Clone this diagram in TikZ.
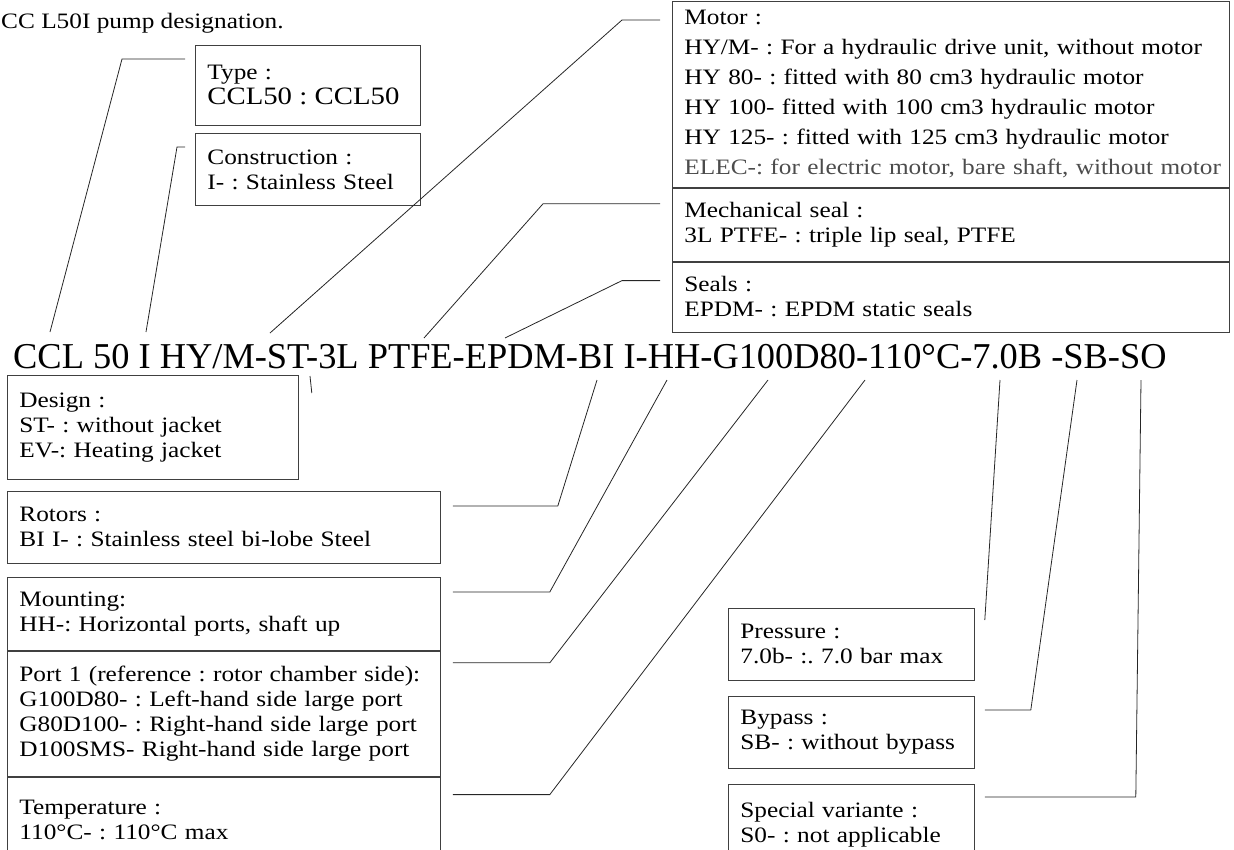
\documentclass[tikz,border=0pt]{standalone}
\usepackage{fontspec}
\setmainfont{Liberation Serif}
\newfontfamily\boxfont{Liberation Serif}[FakeStretch=1.15]
\usetikzlibrary{positioning,calc}
\frenchspacing

\tikzset{
  box/.style={draw=black!75, line width=0.8pt, anchor=north west, align=left,
    inner xsep=12pt, inner ysep=0pt, font=\boxfont\fontsize{22}{25}\selectfont},
  lead/.style={draw=black!85, line width=0.8pt},
}

\begin{document}
\begin{tikzpicture}[x=1pt, y=-1pt]
  \useasboundingbox (0,0) rectangle (1234,849);

  % heading and designation string
  \node[anchor=base west, inner sep=0pt, font=\boxfont\fontsize{22}{25}\selectfont] (title) at (1,28) {CC L50I pump designation.};
  \node[anchor=base west, inner sep=0pt, font=\fontsize{36.4}{40}\selectfont] (code) at (13,368) {CCL 50 I HY/M-ST-3L PTFE-EPDM-BI I-HH-G100D80-110°C-7.0B -SB-SO};

  % boxes above the string
  \node[box, minimum width=225, minimum height=80, text width=201] (type) at (195,45) {Type :\\{\fontsize{25}{29}\selectfont CCL50 : CCL50}};
  \node[box, minimum width=225, minimum height=72, text width=201] (constr) at (195,133) {Construction :\\I- : Stainless Steel};
  \node[box, minimum width=557, minimum height=186, text width=533, font=\boxfont\fontsize{22}{30}\selectfont] (motor) at (672,1) {Motor :\\HY/M- : For a hydraulic drive unit, without motor\\HY 80- : fitted with 80 cm3 hydraulic motor\\HY 100- fitted with 100 cm3 hydraulic motor\\HY 125- : fitted with 125 cm3 hydraulic motor\\\mbox{\color{black!70}ELEC-: for electric motor, bare shaft, without motor}};
  \node[box, minimum width=557, minimum height=73, text width=533] (mech) at (motor.south west) {Mechanical seal :\\3L PTFE- : triple lip seal, PTFE};
  \node[box, minimum width=557, minimum height=70, text width=533] (seals) at (mech.south west) {Seals :\\EPDM- : EPDM static seals};

  % boxes below the string
  \node[box, minimum width=291, minimum height=104, text width=267] (design) at (7,375) {Design :\\ST- : without jacket\\EV-: Heating jacket};
  \node[box, minimum width=433, minimum height=72, text width=409] (rotors) at (7,491) {Rotors :\\BI I- : Stainless steel bi-lobe Steel};
  \node[box, minimum width=433, minimum height=73, text width=409] (mount) at (7,577) {Mounting:\\HH-: Horizontal ports, shaft up};
  \node[box, minimum width=433, minimum height=125, text width=409] (port) at (mount.south west) {Port 1 (reference : rotor chamber side):\\G100D80- : Left-hand side large port\\G80D100- : Right-hand side large port\\D100SMS- Right-hand side large port};
  \node[box, minimum width=433, minimum height=85, text width=409] (temp) at (port.south west) {Temperature :\\110°C- : 110°C max};
  \node[box, minimum width=246, minimum height=72, text width=222] (press) at (728,608) {Pressure :\\7.0b- :. 7.0 bar max};
  \node[box, minimum width=246, minimum height=72, text width=222] (bypass) at (728,696) {Bypass :\\SB- : without bypass};
  \node[box, minimum width=246, minimum height=80, text width=222] (special) at (728,784) {Special variante :\\S0- : not applicable};

  % ends of the leaders on the string
  \coordinate (cType) at (50,332);
  \coordinate (cConstr) at (146,332);
  \coordinate (cMotor) at (270,333);
  \coordinate (cMech) at (424,338);
  \coordinate (cSeals) at (505,338);
  \coordinate (cDesign) at (310,376);
  \coordinate (cRotors) at (597,380);
  \coordinate (cMount) at (667,380);
  \coordinate (cPort) at (768,380);
  \coordinate (cTemp) at (865,380);
  \coordinate (cPress) at (1000,380);
  \coordinate (cBypass) at (1077,380);
  \coordinate (cSpecial) at (1141,380);

  % leaders
  \draw[lead] ($(type.north west)+(-10,14)$) -- ++(-63,0) -- (cType);
  \draw[lead] ($(constr.north west)+(-10,14)$) -- ++(-8,0) -- (cConstr);
  \draw[lead] ($(motor.north west)+(-12,19)$) -- ++(-38,0) -- (cMotor);
  \draw[lead] ($(mech.north west)+(-12,16)$) -- ++(-117,0) -- (cMech);
  \draw[lead] ($(seals.north west)+(-12,19)$) -- ++(-38,0) -- (cSeals);
  \draw[lead] ($(design.north east)+(13,18)$) -- (cDesign);
  \draw[lead] ($(rotors.north east)+(12,15)$) -- ++(105,0) -- (cRotors);
  \draw[lead] ($(mount.north east)+(12,15)$) -- ++(97,0) -- (cMount);
  \draw[lead] ($(port.north east)+(12,12)$) -- ++(97,0) -- (cPort);
  \draw[lead] ($(temp.north east)+(12,18)$) -- ++(97,0) -- (cTemp);
  \draw[lead] ($(press.north east)+(10,12)$) -- (cPress);
  \draw[lead] ($(bypass.north east)+(10,14)$) -- ++(46,0) -- (cBypass);
  \draw[lead] ($(special.north east)+(10,13)$) -- ++(151,0) -- (cSpecial);
\end{tikzpicture}
\end{document}
